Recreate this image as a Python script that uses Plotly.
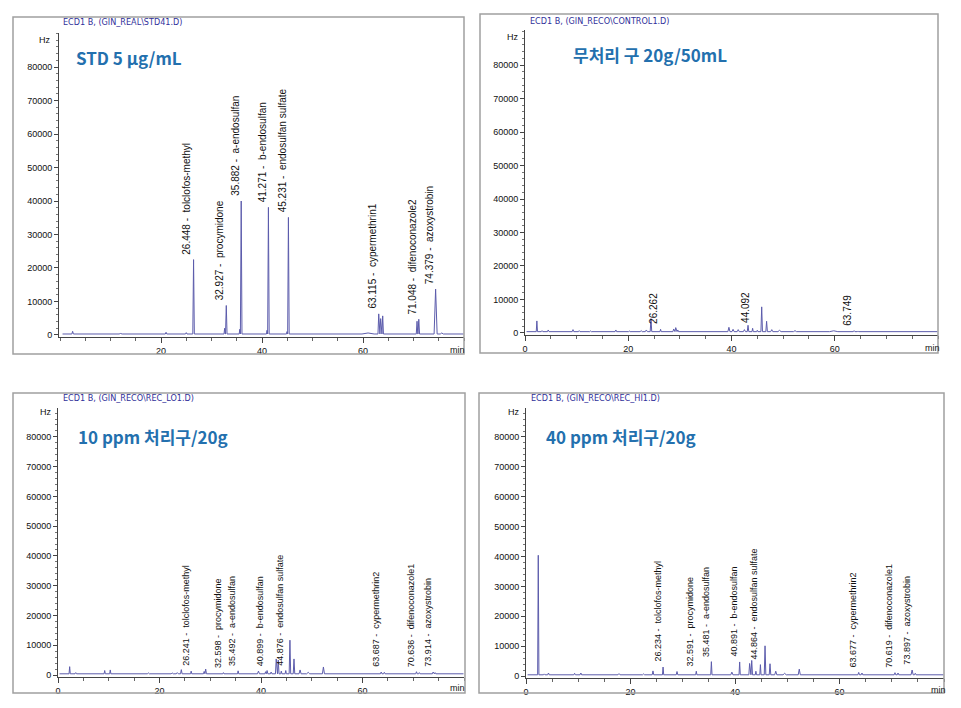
import plotly.graph_objects as go

W, H = 961, 708

# ------------------------- data -------------------------
titles = [
    "ECD1 B, (GIN_REAL\\STD41.D)",
    "ECD1 B, (GIN_RECO\\CONTROL1.D)",
    "ECD1 B, (GIN_RECO\\REC_LO1.D)",
    "ECD1 B, (GIN_RECO\\REC_HI1.D)",
]
sample_names = ["STD 5 μg/mL", "무처리 구 20g/50mL", "10 ppm 처리구/20g", "40 ppm 처리구/20g"]
baselines = [300, 400, 400, 400]

# peaks: (retention time [min], height above baseline [Hz], half width [min])
std_peaks = [
    (2.5, 800, 0.15), (12.0, 150, 0.3), (16.0, 200, 0.3), (21.0, 500, 0.15), (25.0, 400, 0.15),
    (26.448, 22200, 0.15), (32.6, 1700, 0.12), (32.927, 8500, 0.15), (35.6, 1400, 0.12),
    (35.882, 39700, 0.15), (41.0, 1100, 0.12), (41.271, 37800, 0.15), (44.95, 700, 0.1),
    (45.231, 34800, 0.15), (61.0, 300, 1.2), (63.115, 6000, 0.15), (63.5, 4600, 0.15),
    (63.9, 5400, 0.15), (70.7, 3800, 0.15), (71.048, 4400, 0.15), (74.379, 13400, 0.3),
    (75.6, 300, 0.3),
]
control_peaks = [
    (2.3, 3200, 0.12), (3.3, 300, 0.15), (4.5, 500, 0.15), (9.3, 600, 0.15), (10.5, 300, 0.15),
    (12.7, 200, 0.15), (17.6, 500, 0.15), (20.2, 200, 0.15), (22.5, 300, 0.2), (23.5, 500, 0.2),
    (24.4, 3900, 0.15), (26.262, 700, 0.12), (28.8, 800, 0.15), (29.2, 1200, 0.15), (29.6, 500, 0.15),
    (39.5, 1300, 0.2), (40.3, 700, 0.2), (41.3, 600, 0.2), (42.5, 600, 0.2), (43.2, 1900, 0.15),
    (44.092, 1000, 0.12), (45.0, 400, 0.12), (45.85, 7400, 0.15), (46.8, 3100, 0.15),
    (47.8, 600, 0.2), (49.3, 400, 0.3), (52.3, 300, 0.3), (59.8, 250, 0.8), (63.749, 300, 0.15),
    (64.5, 200, 0.12),
]
lo_peaks = [
    (2.3, 2400, 0.12), (3.5, 400, 0.15), (9.2, 1100, 0.12), (10.3, 1300, 0.12), (12.5, 200, 0.2),
    (17.8, 300, 0.2), (22.5, 300, 0.2), (23.5, 400, 0.2), (24.3, 1400, 0.15), (26.241, 900, 0.12),
    (28.8, 800, 0.15), (29.1, 1600, 0.15), (32.598, 400, 0.12), (35.492, 1000, 0.12), (39.5, 900, 0.2),
    (40.899, 700, 0.12), (41.2, 1100, 0.15), (42.0, 600, 0.15), (43.0, 5000, 0.15), (43.4, 4600, 0.15),
    (44.0, 900, 0.12), (44.876, 1100, 0.12), (45.7, 11300, 0.15), (46.5, 5000, 0.15), (47.7, 1300, 0.2),
    (49.3, 500, 0.3), (52.3, 2300, 0.2), (63.687, 600, 0.15), (64.3, 500, 0.15), (70.636, 700, 0.15),
    (71.2, 400, 0.15), (73.914, 600, 0.15), (74.3, 400, 0.15),
]
hi_peaks = [
    (2.35, 40000, 0.12), (3.5, 300, 0.15), (4.3, 600, 0.15), (9.3, 500, 0.15), (10.5, 600, 0.15),
    (17.8, 400, 0.2), (22.5, 300, 0.2), (24.3, 1300, 0.15), (26.234, 2600, 0.12), (28.9, 1100, 0.15),
    (32.591, 1200, 0.12), (35.481, 4400, 0.12), (39.4, 900, 0.2), (40.891, 4300, 0.12), (42.8, 3800, 0.15),
    (43.2, 4800, 0.15), (44.0, 1200, 0.12), (44.864, 3400, 0.12), (45.75, 9700, 0.15), (46.7, 3700, 0.15),
    (47.8, 1200, 0.2), (49.5, 500, 0.3), (52.3, 1900, 0.2), (63.677, 800, 0.15), (64.3, 600, 0.15),
    (70.619, 700, 0.15), (71.2, 600, 0.15), (73.897, 1600, 0.2), (74.5, 500, 0.15),
]
peak_sets = [std_peaks, control_peaks, lo_peaks, hi_peaks]

std_labels = [
    (26.448, "tolclofos-methyl"), (32.927, "procymidone"), (35.882, "a-endosulfan"),
    (41.271, "b-endosulfan"), (45.231, "endosulfan sulfate"), (63.115, "cypermethrin1"),
    (71.048, "difenoconazole2"), (74.379, "azoxystrobin"),
]
control_labels = [(26.262, ""), (44.092, ""), (63.749, "")]
lo_labels = [
    (26.241, "tolclofos-methyl"), (32.598, "procymidone"), (35.492, "a-endosulfan"),
    (40.899, "b-endosulfan"), (44.876, "endosulfan sulfate"), (63.687, "cypermethrin2"),
    (70.636, "difenoconazole1"), (73.914, "azoxystrobin"),
]
hi_labels = [
    (26.234, "tolclofos-methyl"), (32.591, "procymidone"), (35.481, "a-endosulfan"),
    (40.891, "b-endosulfan"), (44.864, "endosulfan sulfate"), (63.677, "cypermethrin2"),
    (70.619, "difenoconazole1"), (73.897, "azoxystrobin"),
]
label_sets = [std_labels, control_labels, lo_labels, hi_labels]

y_tick_values = [0, 10000, 20000, 30000, 40000, 50000, 60000, 70000, 80000]
x_tick_sets = [[20, 40, 60], [0, 20, 40, 60], [0, 20, 40, 60], [0, 20, 40, 60]]

# ------------------------- layout geometry (pixels) -------------------------
axes_px = [
    (59, 464, 33, 337, [-600, 90150], [-0.2, 80]),
    (525, 938, 30, 335, [-600, 90450], [0, 80]),
    (58, 464, 408, 677, [-670, 89700], [0, 80]),
    (526, 944, 408, 678, [-670, 89700], [0, 80]),
]
borders_px = [(13, 17, 464, 354), (480, 14, 938, 353), (13, 393, 465, 693), (479, 393, 944, 693)]
title_px = [(61, 22), (528, 21), (61, 398), (529, 398)]
name_px = [(74, 57), (571, 54), (76, 436), (544, 436)]
hz_px = [(45, 40), (513, 37), (46, 412), (514, 412)]
min_px = [(457, 350), (932, 348), (457, 688), (938, 690)]
label_font_sizes = [10, 10, 9, 9]


def px(x, y):
    return x / W, 1 - y / H


TRACE = "rgb(92,92,172)"
fig = go.Figure()
annotations = []
shapes = []

for i in range(4):
    n = "" if i == 0 else str(i + 1)
    xa, ya = "x" + n, "y" + n
    base = baselines[i]
    peaks = sorted(peak_sets[i])
    xs, ys = [0.3 if i else 0.5], [base]
    for rt, h, w in peaks:
        xs += [rt - w, rt, rt + w]
        ys += [base, base + h, base]
    xs.append(79.9)
    ys.append(base)
    fig.add_trace(go.Scatter(x=xs, y=ys, mode="lines", line=dict(color=TRACE, width=1),
                             xaxis=xa, yaxis=ya, showlegend=False, hoverinfo="skip"))

    l, r, t, b, yr, xr = axes_px[i]
    x0, _ = px(l, 0)
    x1, _ = px(r, 0)
    _, y0 = px(0, b)
    _, y1 = px(0, t)
    common_font = dict(family="Liberation Sans, Arial, sans-serif", size=9, color="#111")
    fig.layout["xaxis" + n] = dict(
        domain=[x0, x1], range=xr, anchor=ya, showgrid=False, zeroline=False, automargin=False,
        showline=True, linecolor="#444", linewidth=1,
        tickmode="array", tickvals=x_tick_sets[i], ticks="outside", ticklen=5,
        tickcolor="#444", tickfont=common_font,
        minor=dict(tickmode="linear", tick0=0, dtick=5, ticks="outside", ticklen=3,
                   tickcolor="#666", showgrid=False),
    )
    fig.layout["yaxis" + n] = dict(
        domain=[y0, y1], range=yr, anchor=xa, showgrid=False, zeroline=False, automargin=False,
        showline=True, linecolor="#444", linewidth=1,
        tickmode="array", tickvals=y_tick_values, tickformat="d", ticks="outside", ticklen=4,
        tickcolor="#444", tickfont=common_font,
        minor=dict(tickmode="linear", tick0=0, dtick=2000, ticks="outside", ticklen=2,
                   tickcolor="#777", showgrid=False),
    )

    bx0, by0, bx1, by1 = borders_px[i]
    shapes.append(dict(type="rect", xref="paper", yref="paper",
                       x0=bx0 / W, x1=bx1 / W, y0=1 - by1 / H, y1=1 - by0 / H,
                       line=dict(color="#a0a0a0", width=1.5), fillcolor="rgba(0,0,0,0)"))

    tx, ty = px(*title_px[i])
    annotations.append(dict(x=tx, y=ty, xref="paper", yref="paper", xanchor="left", yanchor="middle",
                            text=titles[i], showarrow=False,
                            font=dict(family="Liberation Sans Narrow, DejaVu Sans Condensed, Liberation Sans, sans-serif",
                                      size=9, color="#30309a")))
    sx, sy = px(*name_px[i])
    annotations.append(dict(x=sx, y=sy, xref="paper", yref="paper", xanchor="left", yanchor="middle",
                            text="<b>" + sample_names[i] + "</b>", showarrow=False,
                            font=dict(family="Noto Sans CJK KR, Noto Sans, sans-serif", size=17,
                                      color="#2370ae")))
    hx, hy = px(*hz_px[i])
    annotations.append(dict(x=hx, y=hy, xref="paper", yref="paper", xanchor="center", yanchor="middle",
                            text="Hz", showarrow=False, font=common_font))
    mx, my = px(*min_px[i])
    annotations.append(dict(x=mx, y=my, xref="paper", yref="paper", xanchor="center", yanchor="middle",
                            text="min", showarrow=False, font=common_font))

    peak_height = {rt: h for rt, h, w in peaks}
    for rt, name in label_sets[i]:
        txt = f"{rt:.3f}" + (" -\u00a0\u00a0" + name if name else "")
        annotations.append(dict(x=rt, y=base + peak_height.get(rt, 0), xref=xa, yref=ya,
                                xanchor="right", yanchor="bottom", textangle=-90, yshift=3, xshift=1,
                                text=txt, showarrow=False,
                                font=dict(family="Liberation Sans, Arial, sans-serif",
                                          size=label_font_sizes[i], color="#111")))

fig.update_layout(width=W, height=H, margin=dict(l=0, r=0, t=0, b=0),
                  paper_bgcolor="white", plot_bgcolor="white",
                  annotations=annotations, shapes=shapes, showlegend=False)

fig.write_html("out.html", config={"displayModeBar": False},
               post_script="document.body.style.margin='0';document.body.style.overflow='hidden';")
